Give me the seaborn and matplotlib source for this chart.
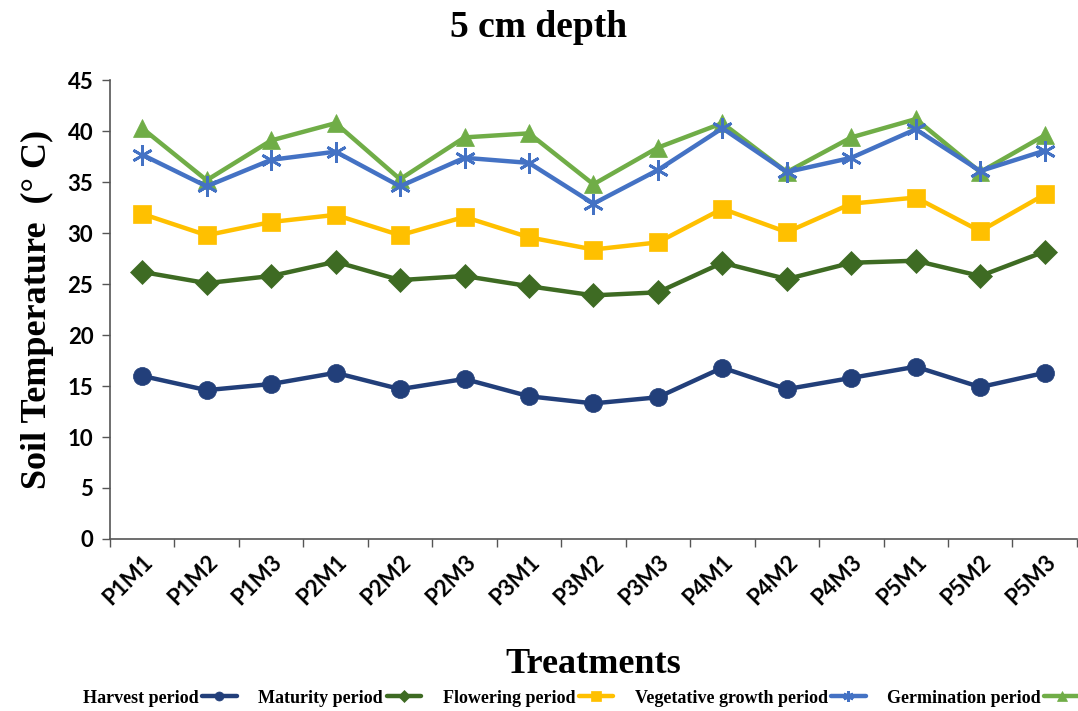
import matplotlib

matplotlib.use("Agg")
import matplotlib.pyplot as plt
import pandas as pd
import seaborn as sns
from matplotlib.ticker import FixedLocator

TREATMENTS = [
    "P1M1", "P1M2", "P1M3", "P2M1", "P2M2", "P2M3", "P3M1", "P3M2",
    "P3M3", "P4M1", "P4M2", "P4M3", "P5M1", "P5M2", "P5M3",
]

HARVEST = [16.0, 14.6, 15.2, 16.3, 14.7, 15.7, 14.0, 13.3, 13.9, 16.8, 14.7, 15.8, 16.9, 14.9, 16.3]
MATURITY = [26.2, 25.1, 25.8, 27.2, 25.4, 25.8, 24.8, 23.9, 24.2, 27.1, 25.5, 27.1, 27.3, 25.8, 28.2]
FLOWERING = [31.9, 29.8, 31.1, 31.8, 29.8, 31.6, 29.6, 28.4, 29.1, 32.4, 30.1, 32.9, 33.5, 30.2, 33.8]
VEGETATIVE = [37.7, 34.6, 37.2, 38.0, 34.6, 37.4, 36.9, 32.9, 36.2, 40.3, 36.0, 37.4, 40.2, 36.1, 38.1]
GERMINATION = [40.3, 35.2, 39.1, 40.8, 35.3, 39.4, 39.8, 34.8, 38.4, 40.8, 36.0, 39.4, 41.2, 36.0, 39.6]

SERIES = [
    ("Harvest period", HARVEST, "#223F7A", "o", 13),
    ("Maturity period", MATURITY, "#3E6B23", "D", 12),
    ("Flowering period", FLOWERING, "#FFC000", "s", 13),
    ("Vegetative growth period", VEGETATIVE, "#4472C4", (6, 2, 0), 15),
    ("Germination period", GERMINATION, "#70AD47", "^", 13),
]
ZORDERS = [3, 3, 3, 5, 4]

sns.set_style("white")
plt.rcParams["font.family"] = ["Liberation Serif", "DejaVu Serif"]
plt.rcParams["text.color"] = "black"

fig = plt.figure(figsize=(10.78, 7.11), dpi=100)
ax = fig.add_axes([0.102, 0.242, 0.897, 0.645])

positions = list(range(len(TREATMENTS)))
for i, (name, values, color, marker, ms) in enumerate(SERIES):
    df = pd.DataFrame({"pos": positions, "temp": values})
    sns.lineplot(
        data=df, x="pos", y="temp", ax=ax, color=color, marker=marker,
        markersize=ms, linewidth=3.2, markeredgecolor=color,
        markeredgewidth=2 if marker == (6, 2, 0) else 0.5,
        zorder=ZORDERS[i], label=name,
    )

ax.set_xlim(-0.5, len(TREATMENTS) - 0.5)
ax.set_ylim(0, 45)
ax.set_yticks(range(0, 46, 5))
ax.set_xticks(positions)
ax.set_xticklabels(TREATMENTS, rotation=45, ha="right", rotation_mode="anchor",
                   fontfamily="Lato", fontweight="bold", fontsize=16, color="black")
ax.xaxis.set_minor_locator(FixedLocator([p + 0.5 for p in range(-1, len(TREATMENTS))]))
ax.tick_params(axis="x", which="major", length=0, pad=9)
ax.tick_params(axis="x", which="minor", length=6, width=1, color="#555555", direction="out", bottom=True)
ax.tick_params(axis="y", length=6, width=1, color="#555555", direction="out", left=True, pad=6)
for lbl in ax.get_yticklabels():
    lbl.set_fontfamily("Lato")
    lbl.set_fontweight("bold")
    lbl.set_fontsize(16)
    lbl.set_color("black")

for side in ["top", "right"]:
    ax.spines[side].set_visible(False)
for side in ["left", "bottom"]:
    ax.spines[side].set_color("#555555")
    ax.spines[side].set_linewidth(1.2)

ax.set_xlabel("Treatments", fontsize=26, fontweight="bold", labelpad=28, color="black")
ax.set_ylabel("Soil Temperature  (° C)", fontsize=26, fontweight="bold", labelpad=10, color="black")
fig.text(0.5, 0.962, "5 cm depth", ha="center", va="center", fontsize=27, fontweight="bold")

ax.legend_.remove()
handles, labels = ax.get_legend_handles_labels()
fig.legend(handles, labels, loc="center left", bbox_to_anchor=(0.062, 0.018), ncol=5,
           frameon=False, markerfirst=False, handlelength=1.9, handletextpad=0.2,
           columnspacing=1.2, prop={"family": "Liberation Serif", "weight": "bold", "size": 13},
           markerscale=0.5)

fig.savefig("out.png", dpi=100)
